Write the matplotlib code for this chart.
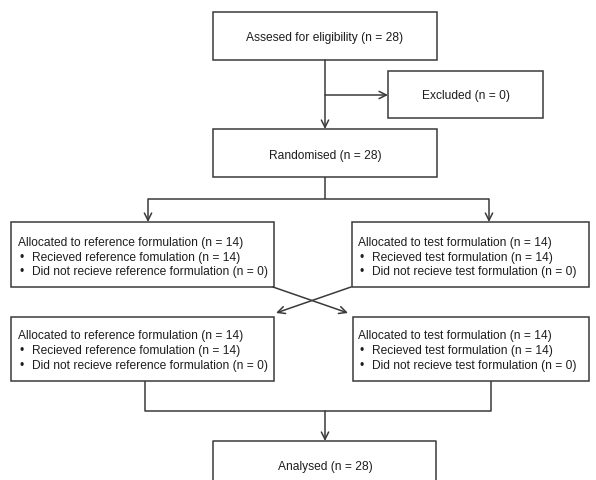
import matplotlib
matplotlib.use("Agg")
import matplotlib.pyplot as plt
from matplotlib.patches import Rectangle

# ---- content ----
assessed_text = "Assesed for eligibility (n = 28)"
excluded_text = "Excluded (n = 0)"
randomised_text = "Randomised (n = 28)"
ref_lines = ["Allocated to reference formulation (n = 14)",
             "Recieved reference fomulation (n = 14)",
             "Did not recieve reference formulation (n = 0)"]
test_lines = ["Allocated to test formulation (n = 14)",
              "Recieved test formulation (n = 14)",
              "Did not recieve test formulation (n = 0)"]
analysed_text = "Analysed (n = 28)"

W, H = 596, 481
fig = plt.figure(figsize=(W / 100, H / 100), dpi=100)
ax = fig.add_axes([0, 0, 1, 1])
ax.set_xlim(0, W)
ax.set_ylim(H, 0)
ax.axis("off")

LC = "#3a3a3a"
TC = "#1e1e1e"
LW = 1.1
FONT = ["Liberation Sans", "DejaVu Sans"]
FS = 8.65
DY = 1.5


def box(x0, y0, x1, y1):
    ax.add_patch(Rectangle((x0, y0), x1 - x0, y1 - y0, fill=False,
                           edgecolor=LC, lw=LW, clip_on=False))


def line(xs, ys):
    ax.plot(xs, ys, color=LC, lw=LW, solid_capstyle="butt", clip_on=False)


def arrow(x0, y0, x1, y1):
    ax.annotate("", xy=(x1, y1), xytext=(x0, y0),
                arrowprops=dict(arrowstyle="->", color=LC, lw=LW,
                                shrinkA=0, shrinkB=0, mutation_scale=13))


def ctext(x, y, s):
    ax.text(x, y + DY, s, ha="center", va="center", fontsize=FS, color=TC,
            family=FONT)


def block(x, ys, lines_):
    ax.text(x, ys[0] + DY, lines_[0], ha="left", va="center", fontsize=FS,
            color=TC, family=FONT)
    for y, s in zip(ys[1:], lines_[1:]):
        ax.text(x + 2, y + DY, "\u2022", ha="left", va="center", fontsize=FS,
                color=TC, family=FONT)
        ax.text(x + 14, y + DY, s, ha="left", va="center", fontsize=FS,
                color=TC, family=FONT)


# boxes
box(213, 13, 437, 61)
ctext(325, 37, assessed_text)
box(388, 72, 543, 119)
ctext(466, 95, excluded_text)
box(213, 130, 437, 178)
ctext(325, 155, randomised_text)

box(11, 223, 274, 288)
block(18, [242, 257, 271], ref_lines)
box(352, 223, 589, 288)
block(358, [242, 257, 271], test_lines)

box(11, 318, 274, 382)
block(18, [335, 350, 365], ref_lines)
box(353, 318, 589, 382)
block(358, [335, 350, 365], test_lines)

# Analysed box (bottom edge outside the image)
line([213, 213, 436, 436], [500, 442, 442, 500])
ctext(325, 466, analysed_text)

# connectors
arrow(325, 61, 325, 130)
arrow(325, 96, 388, 96)
line([325, 325], [178, 200])
line([148, 489], [200, 200])
arrow(148, 200, 148, 223)
arrow(489, 200, 489, 223)

arrow(273, 288, 348, 314)
arrow(351, 288, 276, 314)

line([145, 145, 491, 491], [382, 412, 412, 382])
arrow(325, 412, 325, 442)

fig.savefig("out.png", dpi=100)
